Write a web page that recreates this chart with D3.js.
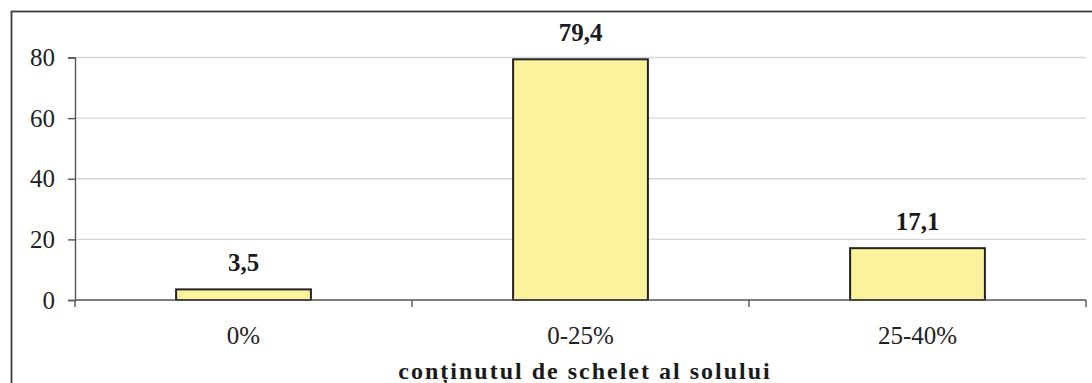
<!DOCTYPE html>
<html>
<head>
<meta charset="utf-8">
<script src="https://cdn.jsdelivr.net/npm/d3@7"></script>
<style>
  html, body { margin: 0; padding: 0; background: #fff; }
  svg { display: block; }
</style>
</head>
<body>
<svg id="chart" width="1092" height="383"></svg>
<script>
// Soil skeleton content classes and their shares (%)
const categories = ["0%", "0-25%", "25-40%"];
const values = [3.5, 79.4, 17.1];
const valueLabels = ["3,5", "79,4", "17,1"];
const yTicks = [0, 20, 40, 60, 80];
const axisTitle = "conținutul de schelet al solului";

const svg = d3.select("#chart");
const W = 1092, H = 383;
const plot = { left: 75, right: 1086, top: 57.5, bottom: 300 };
const serif = "'Liberation Serif', 'Times New Roman', serif";

// outer frame (runs off the right and bottom edges)
svg.append("rect")
  .attr("x", 11.5).attr("y", 11.5)
  .attr("width", W + 10).attr("height", H + 10)
  .attr("fill", "none").attr("stroke", "#3c3c3c").attr("stroke-width", 1.8);

const x = d3.scaleBand().domain(categories).range([plot.left, plot.right]).padding(0);
const y = d3.scaleLinear().domain([0, 80]).range([plot.bottom, plot.top]);
const barW = x.bandwidth() * 0.4;

// horizontal gridlines
svg.append("g").selectAll("line")
  .data(yTicks.filter(d => d > 0))
  .join("line")
  .attr("x1", plot.left).attr("x2", plot.right)
  .attr("y1", d => y(d)).attr("y2", d => y(d))
  .attr("stroke", "#d6d6d6").attr("stroke-width", 1.4);

// bars
svg.append("g").selectAll("rect")
  .data(values)
  .join("rect")
  .attr("x", (d, i) => x(categories[i]) + (x.bandwidth() - barW) / 2)
  .attr("width", barW)
  .attr("y", d => y(d))
  .attr("height", d => y(0) - y(d))
  .attr("fill", "#faf39b")
  .attr("stroke", "#222").attr("stroke-width", 2);

// y axis
const yAxis = svg.append("g")
  .attr("transform", `translate(${plot.left},0)`)
  .call(d3.axisLeft(y).tickValues(yTicks).tickSize(7).tickPadding(13).tickFormat(d3.format("d")));
yAxis.select(".domain").attr("stroke", "#555").attr("stroke-width", 1.4);
yAxis.selectAll(".tick line").attr("stroke", "#555").attr("stroke-width", 1.4);
yAxis.selectAll(".tick text")
  .attr("font-family", serif).attr("font-size", 25).attr("fill", "#222");

// x axis with ticks on category boundaries
const xg = svg.append("g");
xg.append("line")
  .attr("x1", plot.left).attr("x2", plot.right)
  .attr("y1", plot.bottom).attr("y2", plot.bottom)
  .attr("stroke", "#555").attr("stroke-width", 1.4);
const bounds = categories.map(c => x(c)).concat([x(categories[categories.length - 1]) + x.bandwidth()]);
xg.selectAll("line.tk")
  .data(bounds)
  .join("line").attr("class", "tk")
  .attr("x1", d => d).attr("x2", d => d)
  .attr("y1", plot.bottom).attr("y2", plot.bottom + 7)
  .attr("stroke", "#555").attr("stroke-width", 1.4);
xg.selectAll("text")
  .data(categories)
  .join("text")
  .attr("x", d => x(d) + x.bandwidth() / 2)
  .attr("y", 344)
  .attr("text-anchor", "middle")
  .attr("font-family", serif).attr("font-size", 25).attr("fill", "#222")
  .text(d => d);

// value labels above bars
svg.append("g").selectAll("text")
  .data(values)
  .join("text")
  .attr("x", (d, i) => x(categories[i]) + x.bandwidth() / 2)
  .attr("y", d => y(d) - 18)
  .attr("text-anchor", "middle")
  .attr("font-family", serif).attr("font-size", 25).attr("font-weight", "bold").attr("fill", "#1a1a1a")
  .text((d, i) => valueLabels[i]);

// axis title
svg.append("text")
  .attr("x", 585).attr("y", 379)
  .attr("text-anchor", "middle")
  .attr("font-family", serif).attr("font-size", 24).attr("font-weight", "bold")
  .attr("letter-spacing", 2).attr("fill", "#1a1a1a")
  .text(axisTitle);
</script>
</body>
</html>
